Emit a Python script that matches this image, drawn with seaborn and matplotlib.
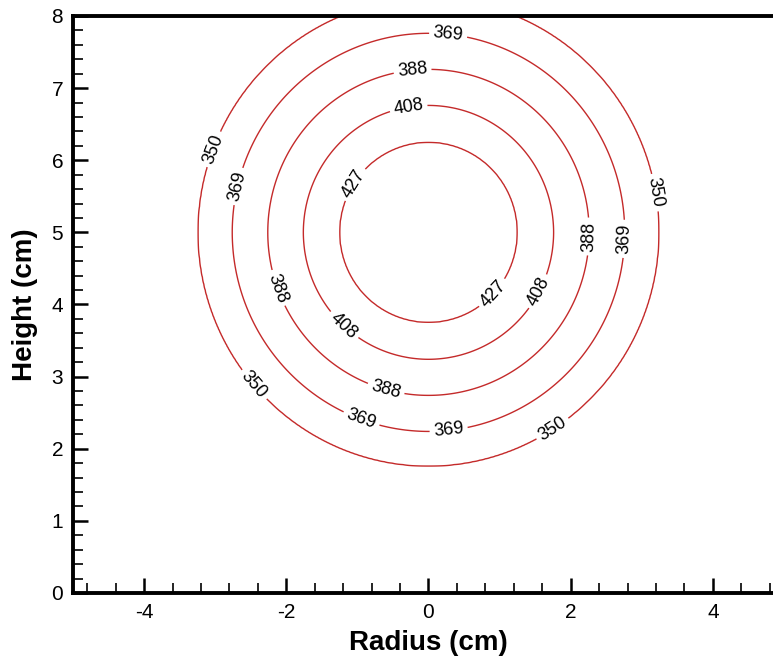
import numpy as np
import matplotlib.pyplot as plt
import seaborn as sns
from matplotlib.ticker import MultipleLocator

sns.set_theme(style="ticks")
plt.rcParams['font.family'] = ['Liberation Sans', 'DejaVu Sans']
plt.rcParams['axes.unicode_minus'] = False
plt.rcParams['text.color'] = 'black'
plt.rcParams['axes.labelcolor'] = 'black'
plt.rcParams['xtick.color'] = 'black'
plt.rcParams['ytick.color'] = 'black'

# contour levels and the radius (cm) around (0, 5) at which each ring sits
levels = [350, 369, 388, 408, 427]
ring_radius = [3.24, 2.76, 2.26, 1.76, 1.25]
center_x, center_y = 0.0, 5.0
# values that close the profile at the centre and far from it
core_value = 451
edge_radius = 7.0
edge_value = 270

# where the labels are placed on the rings (data coords)
label_spots = [
    (0.28, 7.77), (-0.21, 7.11), (-0.28, 6.73),
    (-3.07, 6.17), (-2.69, 5.64), (-1.01, 5.64),
    (3.10, 5.54), (2.38, 4.94), (2.75, 4.91),
    (-2.14, 4.22), (0.92, 4.14), (1.62, 4.14),
    (-1.23, 3.67), (-0.58, 2.89), (-2.45, 2.89),
    (-0.93, 2.45), (0.28, 2.30), (1.75, 2.27),
]

prof_r = [0.0] + ring_radius[::-1] + [edge_radius]
prof_t = [core_value] + levels[::-1] + [edge_value]

x = np.linspace(-5, 5, 501)
y = np.linspace(0, 8, 401)
X, Y = np.meshgrid(x, y)
R = np.hypot(X - center_x, Y - center_y)
T = np.interp(R, prof_r, prof_t)

fig = plt.figure(figsize=(7.73, 6.58), dpi=100)
ax = fig.add_axes([0.0944, 0.0988, 0.9198, 0.8769])

cs = ax.contour(X, Y, T, levels=levels, colors='#c42a2a', linewidths=1.0)
lbls = ax.clabel(cs, fmt='%d', fontsize=13, colors='black', inline=True,
                 inline_spacing=4, manual=label_spots)

ax.set_xlim(-5, 5)
ax.set_ylim(0, 8)
ax.xaxis.set_major_locator(MultipleLocator(2))
ax.xaxis.set_minor_locator(MultipleLocator(0.4))
ax.yaxis.set_major_locator(MultipleLocator(1))
ax.yaxis.set_minor_locator(MultipleLocator(0.2))

ax.tick_params(which='major', direction='in', length=11, width=1.8,
               labelsize=15, pad=7, top=False, right=False,
               color='black', labelcolor='black')
ax.tick_params(which='minor', direction='in', length=7, width=1.2,
               top=False, right=False, color='black')

for spine in ax.spines.values():
    spine.set_linewidth(2.8)
    spine.set_edgecolor('black')
    spine.set_visible(True)

ax.set_xlabel('Radius (cm)', fontsize=20, fontweight='bold', labelpad=6, color='black')
ax.set_ylabel('Height (cm)', fontsize=20, fontweight='bold', labelpad=10, color='black')
ax.set_facecolor('white')
fig.patch.set_facecolor('white')

fig.savefig('out.png', dpi=100)
